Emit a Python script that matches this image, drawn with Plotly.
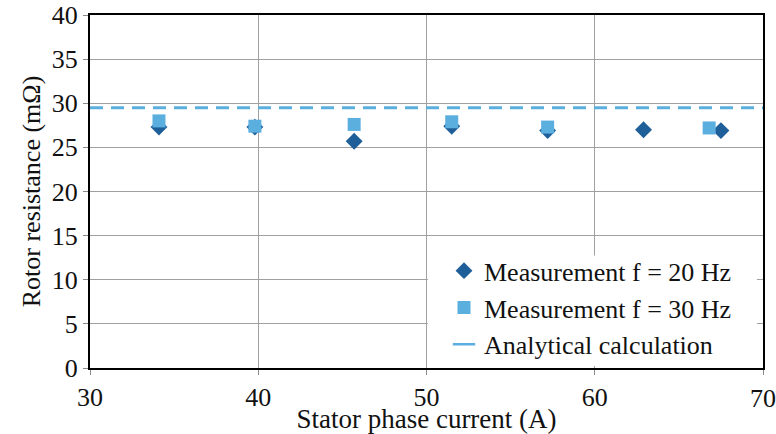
import plotly.graph_objects as go

x20 = [34.1, 39.8, 45.7, 51.5, 57.2, 62.9, 67.5]
y20 = [27.3, 27.3, 25.7, 27.4, 26.9, 27.0, 26.9]
x30 = [34.1, 39.8, 45.7, 51.5, 57.2, 66.8]
y30 = [28.0, 27.4, 27.6, 27.9, 27.3, 27.2]
analytical = 29.5
x_range = [30, 70]
x_ticks = [30, 40, 50, 60, 70]
y_ticks = [0, 5, 10, 15, 20, 25, 30, 35, 40]

font = "Liberation Serif, Times New Roman, serif"
TXT = "#111"
LIGHT = "#5AAFDF"

fig = go.Figure()
fig.add_trace(go.Scatter(x=x20, y=y20, mode="markers", name="Measurement f = 20 Hz",
                         marker=dict(symbol="diamond", size=13, color="#1F5F99")))
fig.add_trace(go.Scatter(x=x30, y=y30, mode="markers", name="Measurement f = 30 Hz",
                         marker=dict(symbol="square", size=13, color=LIGHT)))
fig.add_trace(go.Scatter(x=x_range, y=[analytical, analytical], mode="lines",
                         name="Analytical calculation", showlegend=False,
                         line=dict(color=LIGHT, width=3, dash="13px,8px")))
# legend-only entry: short solid line as in the reference legend
fig.add_trace(go.Scatter(x=[None], y=[None], mode="markers", name="Analytical calculation",
                         marker=dict(symbol="line-ew-open", size=20, color=LIGHT,
                                     line=dict(color=LIGHT, width=2.5))))

# white legend area (covers the gridlines, no border)
fig.add_shape(type="rect", xref="paper", yref="paper", x0=0.502, x1=0.991, y0=0.006, y1=0.319,
              fillcolor="white", line=dict(width=0), layer="above")

fig.update_layout(
    width=776, height=434,
    margin=dict(l=90, r=13, t=15, b=66),
    paper_bgcolor="white", plot_bgcolor="white",
    font=dict(family=font, size=26, color=TXT),
    legend=dict(x=0.526, y=0.342, xanchor="left", yanchor="top",
                bgcolor="rgba(0,0,0,0)", borderwidth=0,
                font=dict(family=font, size=26, color=TXT), itemwidth=30,
                tracegroupgap=0),
    showlegend=True,
)
fig.add_annotation(x=70, y=0, xref="x", yref="y", text="70", showarrow=False,
                   xanchor="center", yshift=-30,
                   font=dict(family=font, size=26, color=TXT))
fig.update_xaxes(range=x_range, tickvals=x_ticks,
                 ticktext=[str(v) if v != 70 else "" for v in x_ticks],
                 showgrid=True, gridcolor="#A0A0A0", gridwidth=1,
                 showline=True, linecolor="black", linewidth=2, mirror=True,
                 ticks="outside", ticklen=5, tickcolor="#888", automargin=False,
                 tickfont=dict(family=font, size=26, color=TXT),
                 title=dict(text="Stator phase current (A)", standoff=0,
                            font=dict(family=font, size=27, color=TXT)), zeroline=False)
fig.update_yaxes(range=[0, 40], tickvals=y_ticks, showgrid=True, gridcolor="#A0A0A0", gridwidth=1,
                 showline=True, linecolor="black", linewidth=2, mirror=True,
                 ticks="outside", ticklen=5, tickcolor="#888", automargin=False,
                 tickfont=dict(family=font, size=26, color=TXT),
                 title=dict(text="Rotor resistance (mΩ)", standoff=4,
                            font=dict(family=font, size=26, color=TXT)), zeroline=False)

fig.write_html("out.html")
